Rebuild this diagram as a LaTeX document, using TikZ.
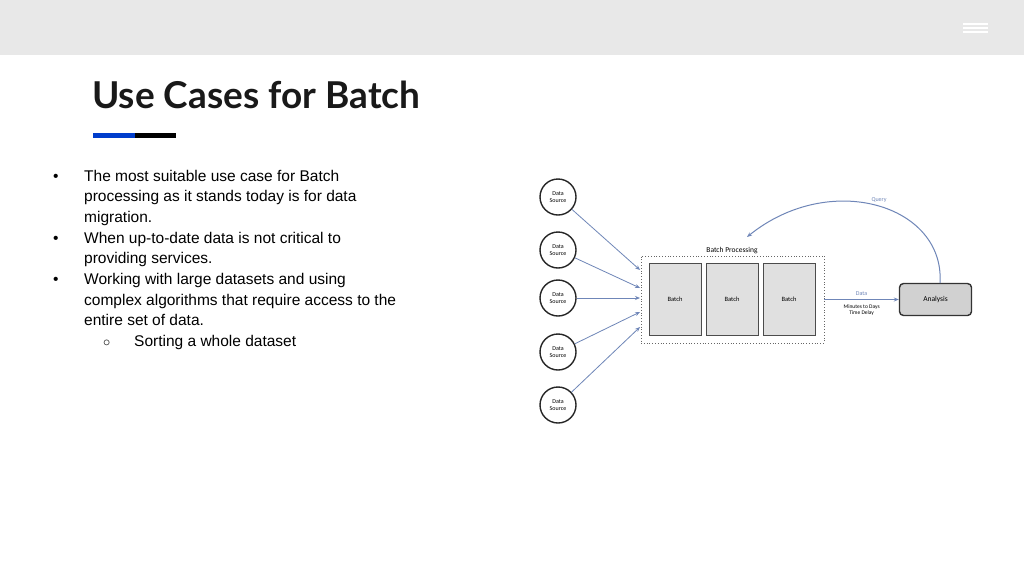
\documentclass[tikz,border=0pt]{standalone}
\usepackage{fontspec}
\setmainfont{Liberation Sans}
\newfontfamily\titlefont{Lato}
\newfontfamily\carl{Carlito}
\usetikzlibrary{arrows.meta}
\definecolor{arr}{HTML}{6F86B8}
\begin{document}
\begin{tikzpicture}[x=1pt,y=-1pt,
  src/.style={circle,draw=black!85,line width=1.4pt,minimum size=36pt,inner sep=0pt,align=center,font=\carl\fontsize{6}{7}\selectfont,fill=white},
  batch/.style={draw=black!70,fill=black!12,line width=0.8pt,minimum width=52pt,minimum height=72pt,font=\carl\fontsize{6.5}{7}\selectfont},
  conn/.style={draw=arr,line width=0.8pt,-{Stealth[length=5pt,width=4pt]}},
  txt/.style={anchor=base west,font=\fontsize{15.5}{18}\selectfont,inner sep=0pt}]
\useasboundingbox (0,0) rectangle (1024,576);
\fill[white] (0,0) rectangle (1024,576);
\fill[black!9] (0,0) rectangle (1024,55);
\foreach \y in {24,28,32}{\draw[white,line width=1.2pt] (963,\y) -- (988,\y);}
\node[anchor=base west,inner sep=0pt,font=\titlefont\bfseries\fontsize{37}{40}\selectfont,text=black!90] (title) at (92,108) {Use Cases for Batch};
\fill[blue!70!cyan!80!black] (93,133) rectangle (135,138);
\fill[black] (135,133) rectangle (176,138);
% bullets
\node[txt] (b1) at (53,181) {\textbullet};
\node[txt] (t1) at (84,181) {The most suitable use case for Batch};
\node[txt] (t2) at (84,201) {processing as it stands today is for data};
\node[txt] (t3) at (84,222) {migration.};
\node[txt] (b2) at (53,243) {\textbullet};
\node[txt] (t4) at (84,243) {When up-to-date data is not critical to};
\node[txt] (t5) at (84,263) {providing services.};
\node[txt] (b3) at (53,284) {\textbullet};
\node[txt] (t6) at (84,284) {Working with large datasets and using};
\node[txt] (t7) at (84,305) {complex algorithms that require access to the};
\node[txt] (t8) at (84,325) {entire set of data.};
\node[txt] (b4) at (103,346) {$\circ$};
\node[txt] (t9) at (134,346) {Sorting a whole dataset};
% diagram
\node[draw=black!60,dotted,line width=0.8pt,minimum width=183pt,minimum height=87pt] (bp) at (732.5,299.5) {};
\node[font=\carl\fontsize{7.5}{8}\selectfont,anchor=south] (bpl) at (732,257) {Batch Processing};
\node[batch] (ba1) at (675,299) {Batch};
\node[batch] (ba2) at (732,299) {Batch};
\node[batch] (ba3) at (789,299) {Batch};
\node[src] (s1) at (558,197) {Data\\Source};
\node[src] (s2) at (558,250) {Data\\Source};
\node[src] (s3) at (558,298) {Data\\Source};
\node[src] (s4) at (558,352) {Data\\Source};
\node[src] (s5) at (558,405) {Data\\Source};
\coordinate (e1) at (640,270);
\coordinate (e2) at (640,288);
\coordinate (e3) at (640,298);
\coordinate (e4) at (640,312);
\coordinate (e5) at (640,327);
\draw[conn] (s1) -- (e1);
\draw[conn] (s2) -- (e2);
\draw[conn] (s3) -- (e3);
\draw[conn] (s4) -- (e4);
\draw[conn] (s5) -- (e5);
\node[draw=black!80,fill=black!18,rounded corners=4pt,line width=1.4pt,minimum width=72pt,minimum height=32pt,font=\carl\fontsize{7.5}{8}\selectfont] (an) at (935.5,299.5) {Analysis};
\draw[conn] (bp.east) -- (an.west) node[midway,above=0pt,text=arr,font=\carl\fontsize{6}{7}\selectfont] (dl) {Data}
  node[midway,below=1pt,align=center,font=\carl\fontsize{5.5}{6.5}\selectfont] (dl2) {Minutes to Days\\Time Delay};
\coordinate (qa) at (747,237);
\draw[conn,line width=1pt] (940,283) .. controls (945,205) and (830,170) .. (qa);
\node[text=arr,font=\carl\fontsize{6}{7}\selectfont] (ql) at (879,200) {Query};
\end{tikzpicture}
\end{document}
